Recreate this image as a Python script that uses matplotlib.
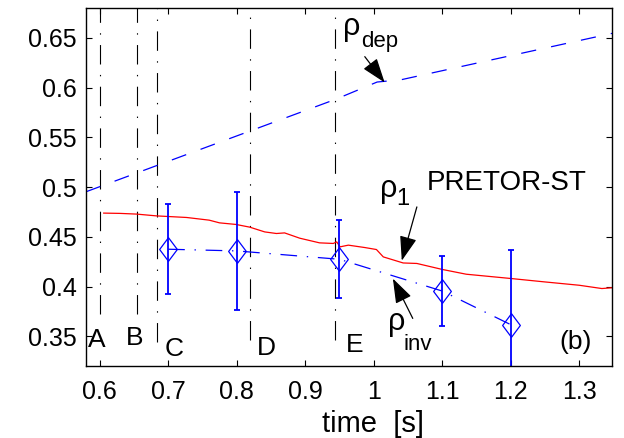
import numpy as np
import matplotlib
matplotlib.use('Agg')
import matplotlib.pyplot as plt
from matplotlib.path import Path

plt.rcParams['font.family'] = ['Liberation Sans', 'DejaVu Sans']
plt.rcParams['lines.scale_dashes'] = False

# PRETOR-ST q=1 radius
rho1_t = [0.606, 0.63, 0.654, 0.683, 0.727, 0.76, 0.775, 0.799, 0.819, 0.841,
          0.858, 0.87, 0.892, 0.921, 0.941, 0.946, 0.951, 0.963, 0.987, 1.004,
          1.014, 1.043, 1.063, 1.1, 1.135, 1.2, 1.249, 1.3, 1.333, 1.35]
rho1_val = [0.4738, 0.4735, 0.4728, 0.4710, 0.4694, 0.4667, 0.4640, 0.4624, 0.4597, 0.4549,
            0.4533, 0.4539, 0.4486, 0.4439, 0.4433, 0.4449, 0.4399, 0.4416, 0.4392, 0.4372,
            0.4298, 0.4237, 0.4232, 0.4172, 0.4124, 0.4081, 0.4047, 0.4013, 0.3980, 0.3989]

# ECH deposition radius
dep_t = [0.58, 0.945, 1.005, 1.04, 1.35]
dep_val = [0.4952, 0.5883, 0.6055, 0.6078, 0.6547]

# measured inversion radius with error bars
inv_t = [0.7, 0.8, 0.95, 1.1, 1.2]
inv_val = [0.4375, 0.4358, 0.4274, 0.3955, 0.3617]
inv_err = [0.045, 0.0596, 0.039, 0.0347, 0.0748]

# time markers A-E
mark_t = [0.6012, 0.6543, 0.6835, 0.8193, 0.9438]
mark_ybot = [0.372, 0.372, 0.344, 0.346, 0.346]
mark_lbl = ['A', 'B', 'C', 'D', 'E']
lbl_t = [0.5964, 0.6518, 0.7088, 0.843, 0.972]
lbl_y = [0.339, 0.341, 0.330, 0.331, 0.334]

xticks = [0.6, 0.7, 0.8, 0.9, 1.0, 1.1, 1.2, 1.3]
xticklabels = ['0.6', '0.7', '0.8', '0.9', '1', '1.1', '1.2', '1.3']
yticks = [0.35, 0.4, 0.45, 0.5, 0.55, 0.6, 0.65]
yticklabels = ['0.35', '0.4', '0.45', '0.5', '0.55', '0.6', '0.65']

fig = plt.figure(figsize=(6.24, 4.38), dpi=100)
ax = fig.add_axes([0.138, 0.164, 0.843, 0.818])
ax.set_xlim(0.5803, 1.348)
ax.set_ylim(0.32, 0.68)

ymin, ymax = ax.get_ylim()
for t, yb in zip(mark_t, mark_ybot):
    ax.axvline(t, ymin=(yb - ymin) / (ymax - ymin), ymax=1, color='k', lw=0.8,
               linestyle=(0, (14, 7.5, 1, 7.5)))

ax.plot(dep_t, dep_val, color='b', lw=0.9, linestyle=(0, (11, 11)))
ax.plot(rho1_t, rho1_val, color='r', lw=0.9)

diamond = Path([(0, 1), (0.75, 0), (0, -1), (-0.75, 0), (0, 1)],
               [Path.MOVETO, Path.LINETO, Path.LINETO, Path.LINETO, Path.CLOSEPOLY])
ax.plot(inv_t, inv_val, color='b', lw=0.9, linestyle=(0, (12, 7, 1, 7)),
        marker=diamond, markersize=17, markerfacecolor='none', markeredgewidth=0.9)
ax.errorbar(inv_t, inv_val, yerr=inv_err, fmt='none', ecolor='b', elinewidth=1.3,
            capsize=2.3, capthick=1.3)

for s, t, y in zip(mark_lbl, lbl_t, lbl_y):
    ax.text(t, y, s, fontsize=19, ha='center', va='baseline')
ax.text(1.294, 0.337, '(b)', fontsize=19, ha='center', va='baseline')

# rho labels: greek letter plus a separate subscript
ax.text(0.9555, 0.653, 'ρ', fontsize=22, va='baseline')
ax.text(0.9815, 0.6409, 'dep', fontsize=16, va='baseline')
ax.text(1.0095, 0.4899, 'ρ', fontsize=22, va='baseline')
ax.text(1.0325, 0.4818, '1', fontsize=17, va='baseline')
ax.text(1.078, 0.497, 'PRETOR-ST', fontsize=20, va='baseline')
ax.text(1.0212, 0.356, 'ρ', fontsize=22, va='baseline')
ax.text(1.0435, 0.3358, 'inv', fontsize=16, va='baseline')

arrow = dict(arrowstyle='-|>,head_length=0.8,head_width=0.28', color='k', lw=0.9,
             mutation_scale=19, shrinkA=0, shrinkB=0)
ax.annotate('', xy=(1.016, 0.605), xytext=(0.987, 0.631), arrowprops=arrow)
ax.annotate('', xy=(1.041, 0.426), xytext=(1.063, 0.480), arrowprops=arrow)
ax.annotate('', xy=(1.028, 0.408), xytext=(1.057, 0.368), arrowprops=arrow)

ax.set_xticks(xticks)
ax.set_xticklabels(xticklabels)
ax.set_yticks(yticks)
ax.set_yticklabels(yticklabels)
ax.tick_params(direction='in', top=True, right=True, length=4, width=0.8, labelsize=18)
ax.tick_params(axis='x', pad=10)
ax.tick_params(axis='y', pad=6.5)
for sp in ax.spines.values():
    sp.set_linewidth(1.0)

fig.text(0.598, 0.014, 'time  [s]', fontsize=21, ha='center', va='baseline')

fig.savefig('out.png', dpi=100)
